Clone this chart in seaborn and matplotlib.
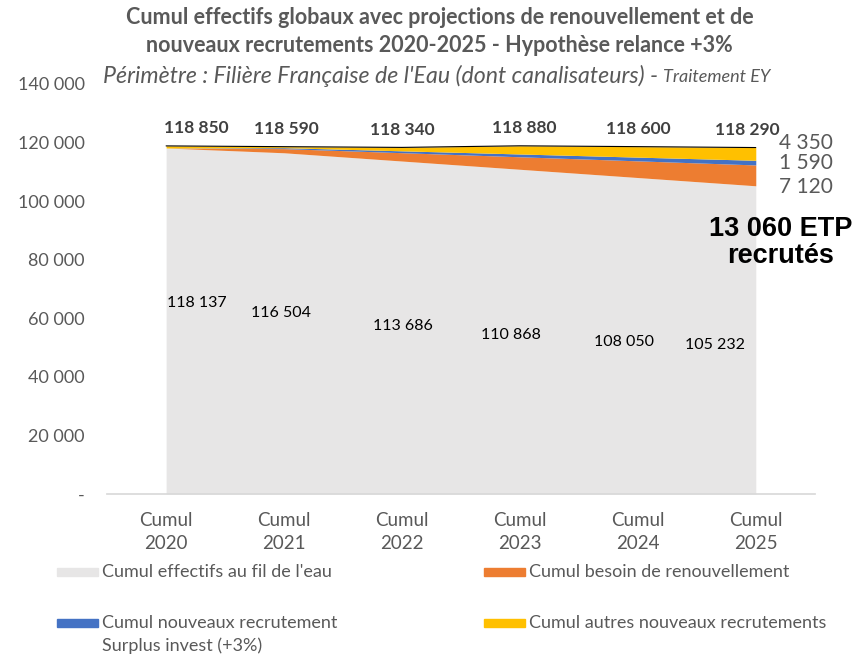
import matplotlib
matplotlib.use("Agg")
import matplotlib.pyplot as plt
import matplotlib.ticker as tkr
from matplotlib.patches import Rectangle
import numpy as np
import pandas as pd
import seaborn as sns

years = ["Cumul\n2020", "Cumul\n2021", "Cumul\n2022", "Cumul\n2023", "Cumul\n2024", "Cumul\n2025"]
base = [118137, 116504, 113686, 110868, 108050, 105232]
renouv = [0, 1424, 2848, 4272, 5696, 7120]
surplus = [0, 318, 636, 954, 1272, 1590]
autres = [713, 344, 1170, 2786, 3582, 4350]
totals = [118850, 118590, 118340, 118880, 118600, 118290]

series_names = ["Cumul effectifs au fil de l'eau", "Cumul besoin de renouvellement",
                "Cumul nouveaux recrutement\nSurplus invest (+3%)", "Cumul autres nouveaux recrutements"]
colors = ["#E7E6E6", "#ED7D31", "#4472C4", "#FFC000"]

df = pd.DataFrame({"x": range(len(years)), "total": totals})

sns.set_theme(style="white")
plt.rcParams['font.family'] = ['Lato', 'DejaVu Sans']

grey_txt = "#595959"
fig = plt.figure(figsize=(8.64, 6.56), dpi=100)
ax = fig.add_axes([0.124, 0.247, 0.819, 0.625])

x = np.arange(len(years))
ax.stackplot(x, base, renouv, surplus, autres, colors=colors, linewidth=0)
sns.lineplot(data=df, x="x", y="total", color="black", linewidth=0.8, ax=ax)

ax.set_xlim(-0.5, 5.5)
ax.set_ylim(0, 140000)
ax.set_xticks(x)
ax.set_xticklabels(years, color=grey_txt, fontsize=13.5, linespacing=1.4)
ax.set_xticks(np.arange(-0.5, 6, 1), minor=True)
ax.tick_params(axis="x", which="major", length=0, pad=13)
ax.tick_params(axis="x", which="minor", length=5, color="#d9d9d9", width=1, direction="out")
ax.set_yticks(np.arange(0, 140001, 20000))
ax.yaxis.set_major_formatter(tkr.FuncFormatter(
    lambda v, p: "-" if v == 0 else f"{int(v):,}".replace(",", " ")))
ax.tick_params(axis="y", length=0, labelsize=13, labelcolor=grey_txt, pad=16)
for s in ["top", "right", "left"]:
    ax.spines[s].set_visible(False)
ax.spines["bottom"].set_color("#d9d9d9")
ax.set_xlabel("")
ax.set_ylabel("")

fmt = lambda v: f"{v:,}".replace(",", " ")

# total labels
tot_dx = [0.26, 0.02, 0.0, 0.04, 0.0, -0.07]
for i, v in enumerate(totals):
    ax.text(i + tot_dx[i], v + 6000, fmt(v), ha="center", va="center",
            fontsize=12.5, fontweight="bold", color="#404040")

# base labels
base_pos = [(0.26, 65200), (-0.03, 61800), (0.01, 57300), (-0.08, 54300), (-0.12, 51900), (-0.35, 50900)]
for i, ((dx, yy), v) in enumerate(zip(base_pos, base)):
    ax.text(i + dx, yy, fmt(v), ha="center", va="center", fontsize=11.5, color="black")

# right-side labels for 2025
ax.text(5.2, 119800, fmt(autres[-1]), ha="left", va="center", fontsize=15, color=grey_txt)
ax.text(5.2, 112970, fmt(surplus[-1]), ha="left", va="center", fontsize=15, color=grey_txt)
ax.text(5.2, 104780, fmt(renouv[-1]), ha="left", va="center", fontsize=15, color=grey_txt)

recrutes = renouv[-1] + surplus[-1] + autres[-1]
ax.text(5.21, 85700, fmt(recrutes) + " ETP\nrecrutés", ha="center", va="center",
        fontsize=19.5, fontweight="bold", color="black", family="Liberation Sans",
        linespacing=1.05)

# titles
fig.text(0.509, 0.9726, "Cumul effectifs globaux avec projections de renouvellement et de",
         ha="center", va="center", fontsize=15.5, fontweight="bold", color=grey_txt)
fig.text(0.509, 0.930, "nouveaux recrutements 2020-2025 - Hypothèse relance +3%",
         ha="center", va="center", fontsize=15.5, fontweight="bold", color=grey_txt)
t1 = fig.text(0.119, 0.884, "Périmètre : Filière Française de l'Eau (dont canalisateurs) - ",
              ha="left", va="center", fontsize=16.7, style="italic", color=grey_txt)
fig.canvas.draw()
bb = t1.get_window_extent()
fig.text(bb.x1 / fig.bbox.width, 0.882, "Traitement EY", ha="left", va="center",
         fontsize=13, style="italic", color=grey_txt)

# legend, drawn by hand to match the two-column layout
W, H = fig.bbox.width, fig.bbox.height
leg = [(57, 572, 0), (484, 572, 1), (57, 623, 2), (484, 623, 3)]
for px, py, k in leg:
    fig.patches.append(Rectangle((px / W, 1 - (py + 4) / H), 41 / W, 8 / H,
                                 color=colors[k], transform=fig.transFigure))
    fig.text((px + 45) / W, 1 - (py - 8) / H, series_names[k], ha="left", va="top",
             fontsize=13, color=grey_txt, linespacing=1.45)

fig.savefig("out.png", dpi=100)
